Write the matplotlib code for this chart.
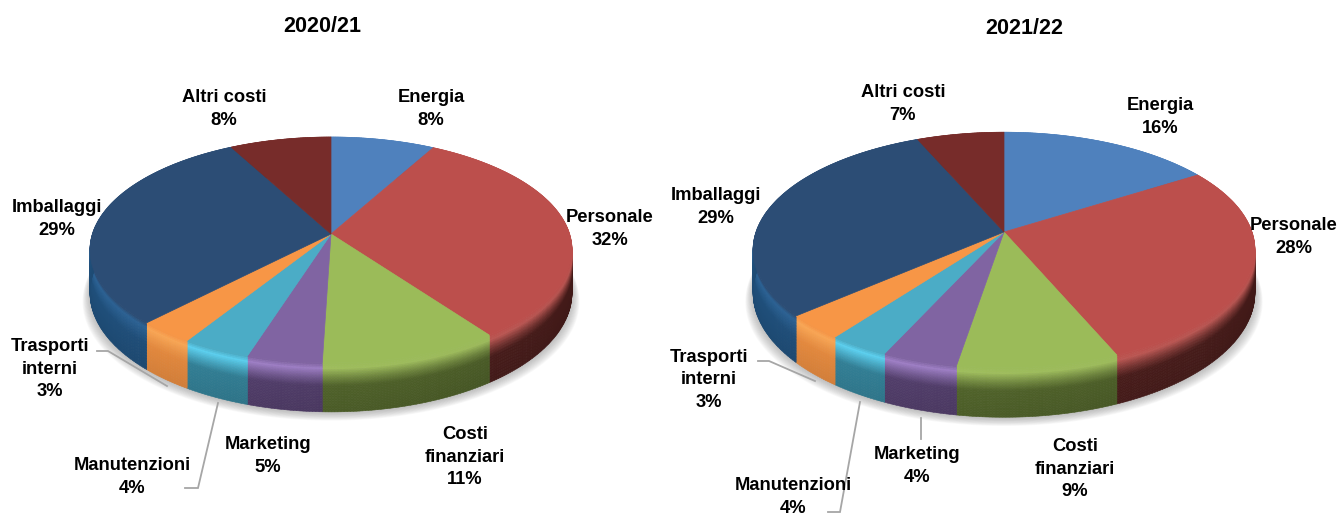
"""Two tilted 3D-look pies: cost breakdown 2020/21 vs 2021/22."""
import numpy as np
import matplotlib
matplotlib.use("Agg")
import matplotlib.pyplot as plt
from matplotlib.collections import PolyCollection
from matplotlib.colors import to_rgb
from matplotlib.patches import Polygon

plt.rcParams["font.family"] = ["Liberation Sans", "DejaVu Sans"]

categories = ["Energia", "Personale", "Costi\nfinanziari", "Marketing",
              "Manutenzioni", "Trasporti\ninterni", "Imballaggi", "Altri costi"]
# printed percentages
labels_2021 = [8, 32, 11, 5, 4, 3, 29, 8]
labels_2122 = [16, 28, 9, 4, 4, 3, 29, 7]
# slice shares as they look in the drawing, not rounded
shares_2021 = [8.0, 32.0, 10.5, 4.4, 4.0, 3.3, 30.0, 7.8]
shares_2122 = [16.0, 27.6, 9.0, 4.2, 3.4, 3.4, 29.9, 6.5]

top_colors = ["#4f81bd", "#bc4f4c", "#9bbb59", "#8064a2",
              "#4bacc6", "#f79646", "#2c4d75", "#772c2a"]
rim_colors = ["#6f9fd8", "#c25a56", "#a3c25f", "#a080c8",
              "#5cd2f2", "#fba755", "#2c6294", "#8a3835"]
wall_colors = ["#3a6290", "#52201e", "#566a2d", "#55406f",
               "#338299", "#e68a3e", "#1f4e79", "#55201e"]

# label centres in pixels, per pie
label_pos_left = [(431, 109), (610, 229), (465, 457), (268, 456),
                  (132, 477), (50, 369), (57, 219), (224, 109)]
label_pos_right = [(1160, 117), (1294, 237), (1075, 469), (917, 466),
                   (793, 497), (709, 380), (716, 207), (903, 104)]


def rim(theta, geo):
    """Perspective circle: theta runs clockwise from 12 o'clock."""
    w = 1 + geo["k"] * np.cos(theta)
    x = geo["cx"] + geo["R"] * np.sin(theta) / w
    y = geo["cy"] - geo["S"] * np.cos(theta) / w
    return x, y, geo["D"] / w


def draw_shadow(ax, geo):
    t = np.linspace(0, 2 * np.pi, 361)
    x, y, d = rim(t, geo)
    for i in range(12):
        grow = 1 + i * 0.0028
        xs = geo["cx"] + (x - geo["cx"]) * grow
        ys = y + d + 1 + i * 0.7
        ax.add_patch(Polygon(np.c_[xs, ys], closed=True, fc="#808080",
                             ec="none", alpha=0.05, zorder=1))


def draw_pie(ax, values, geo):
    draw_shadow(ax, geo)
    edges = np.cumsum([0] + values) / sum(values) * 2 * np.pi

    # side wall first, the top surface covers its hidden back part
    polys, colors = [], []
    fracs = np.linspace(0, 1, 31)
    for i in range(len(values)):
        n = max(int((edges[i + 1] - edges[i]) * 90), 4)
        ts = np.linspace(edges[i], edges[i + 1], n + 1)
        top, hi, wall = (np.array(to_rgb(c)) for c in
                         (top_colors[i], rim_colors[i], wall_colors[i]))
        for t0, t1 in zip(ts[:-1], ts[1:]):
            x0, y0, d0 = rim(t0, geo)
            x1, y1, d1 = rim(t1, geo)
            light = 1.02 - 0.2 * (np.sin((t0 + t1) / 2) + 1) / 2
            for f0, f1 in zip(fracs[:-1], fracs[1:]):
                polys.append([(x0, y0 + d0 * f0), (x1, y1 + d1 * f0),
                              (x1, y1 + d1 * f1), (x0, y0 + d0 * f1)])
                if f0 < 0.1:
                    c = top + (hi - top) * f0 / 0.1
                elif f0 < 0.45:
                    c = hi + (wall - hi) * (f0 - 0.1) / 0.35
                else:
                    c = wall * (1 - 0.12 * (f0 - 0.45))
                # no shading right at the edge, so no seam with the top surface
                shade = 1 + (light - 1) * min(f0 / 0.3, 1)
                colors.append(np.clip(c * shade, 0, 1))
    ax.add_collection(PolyCollection(polys, facecolors=colors, edgecolors=colors,
                                     linewidths=0.4, zorder=2))

    # top surface
    for i in range(len(values)):
        n = max(int((edges[i + 1] - edges[i]) * 90), 4)
        ts = np.linspace(edges[i], edges[i + 1], n + 1)
        x, y, _ = rim(ts, geo)
        xy = np.vstack([[geo["cx"], geo["cy"]], np.c_[x, y]])
        ax.add_patch(Polygon(xy, closed=True, fc=top_colors[i], ec=top_colors[i],
                             lw=0.5, zorder=3))


def draw_labels(ax, values, positions):
    for name, v, (x, y) in zip(categories, values, positions):
        ax.text(x, y, f"{name}\n{v}%", ha="center", va="center", fontsize=13.2,
                fontweight="bold", color="black", linespacing=1.42, zorder=6)


def leader(ax, xs, ys):
    ax.plot(xs, ys, color="#a6a6a6", lw=1.3, zorder=5, solid_joinstyle="miter")


fig = plt.figure(figsize=(13.4, 5.15), dpi=100)
ax = fig.add_axes([0, 0, 1, 1])
ax.set_xlim(0, 1340)
ax.set_ylim(515, 0)
ax.axis("off")

geo_left = {"cx": 331, "cy": 234, "R": 238.6, "S": 110.7, "k": 0.1416, "D": 42}
geo_right = {"cx": 1004, "cy": 232, "R": 248, "S": 115, "k": 0.1525, "D": 42}

draw_pie(ax, shares_2021, geo_left)
draw_pie(ax, shares_2122, geo_right)
draw_labels(ax, labels_2021, label_pos_left)
draw_labels(ax, labels_2122, label_pos_right)

ax.text(322, 26, "2020/21", ha="center", va="center", fontsize=15.5, fontweight="bold")
ax.text(1024, 29, "2021/22", ha="center", va="center", fontsize=15.5, fontweight="bold")

leader(ax, [97, 108, 167], [351, 351, 386])
leader(ax, [185, 198, 218], [488, 488, 403])
leader(ax, [758, 769, 815], [361, 361, 381])
leader(ax, [828, 840, 860], [512, 512, 402])
leader(ax, [921, 921], [418, 439])

fig.savefig("out.png", dpi=100)
